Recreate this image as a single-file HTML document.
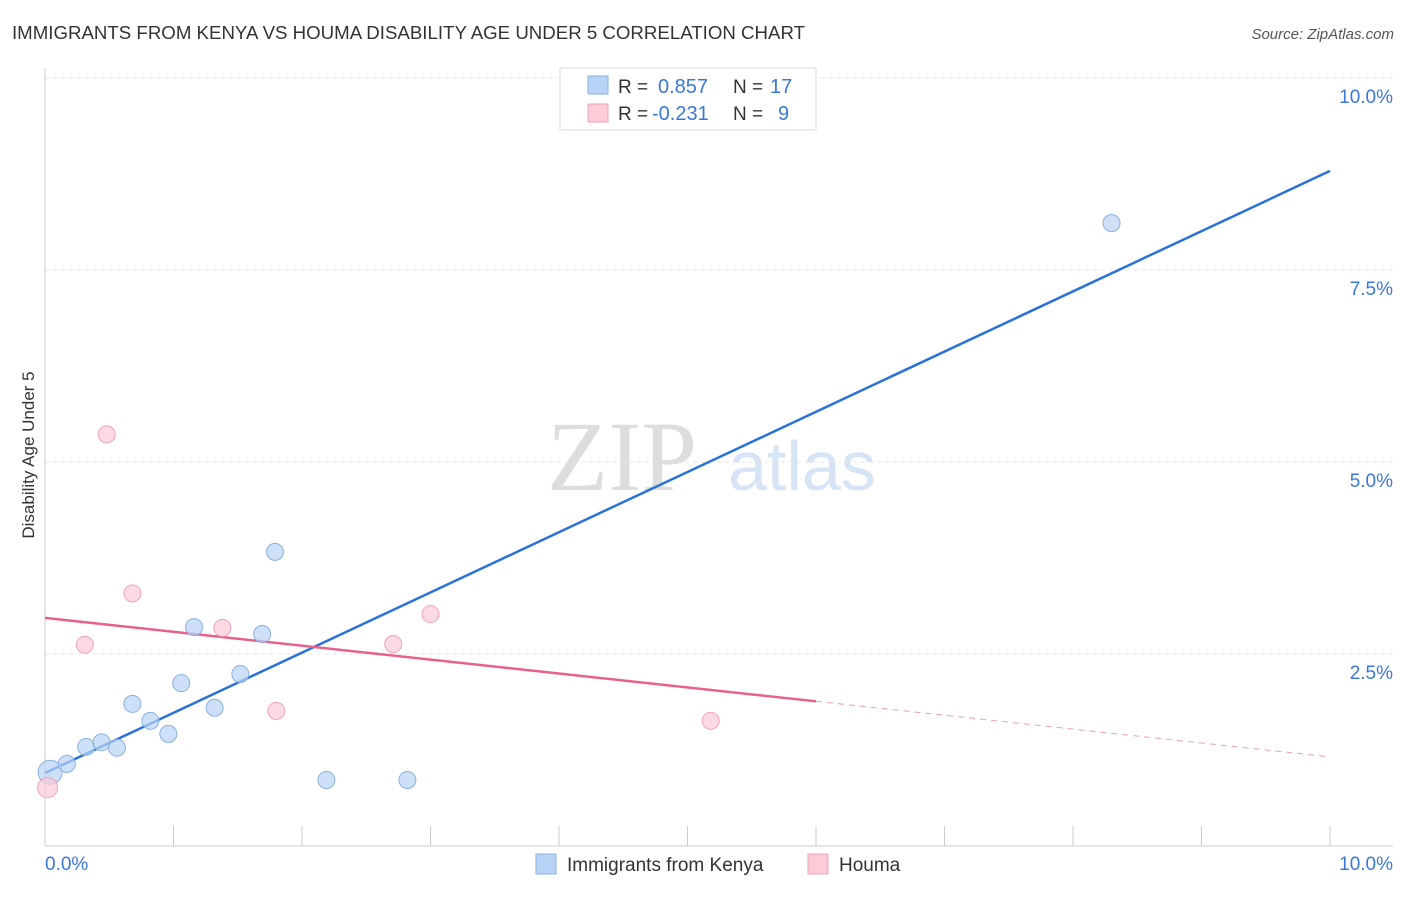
<!DOCTYPE html>
<html><head><meta charset="utf-8"><style>
body{margin:0;background:#fff;font-family:"Liberation Sans",sans-serif}
</style></head><body>
<svg width="1406" height="892" font-family="Liberation Sans, sans-serif">
<text x="12" y="39" font-size="18" fill="#333" textLength="793" lengthAdjust="spacingAndGlyphs">IMMIGRANTS FROM KENYA VS HOUMA DISABILITY AGE UNDER 5 CORRELATION CHART</text>
<text x="1394" y="39" font-size="15" fill="#555" font-style="italic" text-anchor="end">Source: ZipAtlas.com</text>
<text x="622" y="490" font-size="100" fill="#ddd" style="font-family:'Liberation Serif',serif" text-anchor="middle">ZIP</text>
<text x="802" y="490" font-size="70" fill="#d6e4f5" text-anchor="middle">atlas</text>
<g id="grid"></g><g id="axes"></g><g id="lines"></g><g id="pts"></g>
<text transform="translate(34,455) rotate(-90)" font-size="17" fill="#333" text-anchor="middle">Disability Age Under 5</text>
<g>
<rect x="560" y="68" width="256" height="62" fill="#fff" stroke="#ddd"/>
<rect x="588" y="76" width="20" height="18" fill="#b8d3f5" stroke="#8ab0e0"/>
<text x="618" y="93" font-size="19" fill="#333">R =</text>
<text x="658" y="93" font-size="20" fill="#3a78d8">0.857</text>
<text x="733" y="93" font-size="19" fill="#333">N =</text>
<text x="770" y="93" font-size="20" fill="#3a78d8">17</text>
<rect x="588" y="104" width="20" height="18" fill="#fbcbd8" stroke="#efa3b8"/>
<text x="618" y="120" font-size="19" fill="#333">R =</text>
<text x="652" y="120" font-size="20" fill="#3a78d8">-0.231</text>
<text x="733" y="120" font-size="19" fill="#333">N =</text>
<text x="778" y="120" font-size="20" fill="#3a78d8">9</text>
</g>
<g>
<rect x="536" y="854" width="20" height="20" fill="#b8d3f5" stroke="#8ab0e0"/>
<text x="567" y="871" font-size="19" fill="#333">Immigrants from Kenya</text>
<rect x="808" y="854" width="20" height="20" fill="#fbcbd8" stroke="#efa3b8"/>
<text x="839" y="871" font-size="19" fill="#333">Houma</text>
</g>
</svg>
<script>
const kenyaX=[0.04,0.17,0.32,0.44,0.56,0.68,0.82,0.96,1.06,1.16,1.32,1.52,1.69,1.79,2.19,2.82,8.30];
const kenyaY=[0.96,1.07,1.29,1.35,1.28,1.85,1.63,1.46,2.12,2.85,1.80,2.24,2.76,3.83,0.86,0.86,8.11];
const houmaX=[0.02,0.31,0.48,0.68,1.38,1.80,2.71,3.00,5.18];
const houmaY=[0.76,2.62,5.36,3.29,2.84,1.76,2.63,3.02,1.63];
const kenyaLine=[0.95,8.79];
const houmaLine=[2.97,1.16];
const houmaSolidEnd=6.0;
const yTicks=[2.5,5.0,7.5,10.0];
const xTickLabels=["0.0%","10.0%"];
const NS="http://www.w3.org/2000/svg";
const sx=v=>45+v*128.5, sy=v=>846-v*76.8;
function mk(t,a,p){const e=document.createElementNS(NS,t);for(const k in a)e.setAttribute(k,a[k]);document.getElementById(p).appendChild(e);return e;}
yTicks.forEach((t,i)=>{
 const g=mk('line',{x1:45,x2:1393,y1:sy(t),y2:sy(t),stroke:'#e4e4e4','stroke-dasharray':'4,4'},'grid');
 
 
 const l=mk('text',{x:1393,y:sy(t)+25,'font-size':19,fill:'#3a78d8','text-anchor':'end'},'grid');
 l.textContent=t.toFixed(1)+'%';
 
 
});
for(let i=0;i<=10;i++){const t=mk('line',{x1:sx(i),x2:sx(i),y1:826,y2:846,stroke:'#ccc'},'axes');
 
 }
let a=mk('line',{x1:45,x2:1393,y1:846,y2:846,stroke:'#ccc'},'axes');


a=mk('line',{x1:45,x2:45,y1:68,y2:846,stroke:'#ccc'},'axes');


[[0,'start',45],[1,'end',1393]].forEach(([i,an,x])=>{const t=mk('text',{x:x,y:870,'font-size':19,fill:'#3a78d8','text-anchor':an},'axes');t.textContent=xTickLabels[i];
 
 });
let ln=mk('line',{x1:sx(0),y1:sy(kenyaLine[0]),x2:sx(10),y2:sy(kenyaLine[1]),stroke:'#2a72d8','stroke-width':2.5},'lines');


const hm=houmaLine[0]+(houmaLine[1]-houmaLine[0])*houmaSolidEnd/10;
ln=mk('line',{x1:sx(0),y1:sy(houmaLine[0]),x2:sx(houmaSolidEnd),y2:sy(hm),stroke:'#e8608c','stroke-width':2.5},'lines');


ln=mk('line',{x1:sx(houmaSolidEnd),y1:sy(hm),x2:sx(10),y2:sy(houmaLine[1]),stroke:'#e8a0b8','stroke-width':1,'stroke-dasharray':'6,5'},'lines');


kenyaX.forEach((x,i)=>{const c=mk('circle',{cx:sx(x),cy:sy(kenyaY[i]),r:i==0?12:8.5,fill:'rgba(184,211,245,0.7)',stroke:'#8ab0e0'},'pts');
 
 });
houmaX.forEach((x,i)=>{const c=mk('circle',{cx:sx(x),cy:sy(houmaY[i]),r:i==0?10:8.5,fill:'rgba(251,203,216,0.7)',stroke:'#efa3b8'},'pts');
 
 });
</script>
</body></html>
